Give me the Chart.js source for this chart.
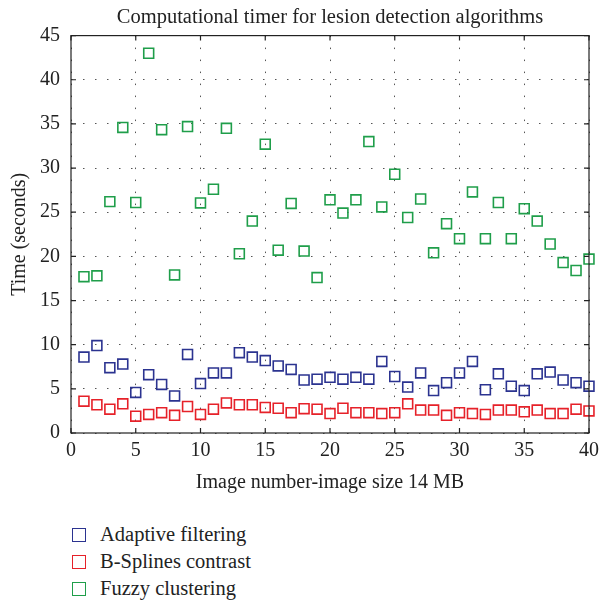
<!DOCTYPE html>
<html>
<head>
<meta charset="utf-8">
<script src="https://cdn.jsdelivr.net/npm/chart.js@4"></script>
<style>
  body { margin: 0; background: #fff; }
  #wrap { position: relative; width: 605px; height: 602px; }
  #box { position: absolute; left: 0; top: 0; width: 605px; height: 500px; }
  #legend { position: absolute; left: 72px; top: 521px; font-family: 'Liberation Serif', serif; font-size: 20.5px; color: #222; }
  #legend div { height: 27px; display: flex; align-items: center; }
  #legend span.sw { display: inline-block; width: 12px; height: 12px; border: 1.5px solid; margin-right: 14px; }
</style>
</head>
<body>
<div id="wrap">
  <div id="box"><canvas id="myChart"></canvas></div>
  <div id="legend"></div>
</div>
<script>
// image number 1..40
var images = [];
for (var i = 1; i <= 40; i++) images.push(i);

var adaptive = [8.6, 9.9, 7.4, 7.8, 4.6, 6.6, 5.5, 4.2, 8.9, 5.6,
                6.8, 6.8, 9.1, 8.6, 8.2, 7.6, 7.2, 6.0, 6.1, 6.3,
                6.1, 6.3, 6.1, 8.1, 6.4, 5.2, 6.8, 4.8, 5.7, 6.8,
                8.1, 4.9, 6.7, 5.3, 4.8, 6.7, 6.9, 6.0, 5.7, 5.3];
var bsplines = [3.6, 3.2, 2.7, 3.3, 1.9, 2.1, 2.3, 2.0, 3.0, 2.1,
                2.7, 3.4, 3.2, 3.2, 2.9, 2.8, 2.3, 2.75, 2.7, 2.2,
                2.8, 2.3, 2.3, 2.2, 2.3, 3.3, 2.6, 2.6, 2.0, 2.3,
                2.2, 2.1, 2.6, 2.6, 2.4, 2.6, 2.2, 2.2, 2.7, 2.5];
var fuzzy = [17.7, 17.8, 26.2, 34.6, 26.1, 43.0, 34.35, 17.9, 34.7, 26.05,
             27.6, 34.5, 20.3, 24.0, 32.7, 20.7, 26.0, 20.6, 17.6, 26.4,
             24.9, 26.4, 33.0, 25.6, 29.3, 24.4, 26.5, 20.4, 23.7, 22.0,
             27.3, 22.0, 26.1, 22.0, 25.4, 24.0, 21.4, 19.3, 18.4, 19.7];

var xTicks = [0, 5, 10, 15, 20, 25, 30, 35, 40];
var yTicks = [0, 5, 10, 15, 20, 25, 30, 35, 40, 45];

var serif = "'Liberation Serif', 'DejaVu Serif', serif";

function toPoints(vals) {
  return vals.map(function (v, k) { return { x: images[k], y: v }; });
}

function series(label, vals, color) {
  return {
    label: label,
    data: toPoints(vals),
    pointStyle: 'rect',
    pointRadius: 7,
    pointHoverRadius: 7,
    pointBorderWidth: 1.6,
    borderColor: color,
    backgroundColor: 'rgba(0,0,0,0)',
    showLine: false,
    clip: false
  };
}

// frame + inward ticks like the original
var frame = {
  id: 'frame',
  afterDraw: function (chart) {
    var c = chart.ctx, a = chart.chartArea;
    var sx = chart.scales.x, sy = chart.scales.y;
    c.save();
    c.strokeStyle = '#222';
    c.lineWidth = 1.2;
    c.strokeRect(a.left, a.top, a.right - a.left, a.bottom - a.top);
    c.beginPath();
    xTicks.forEach(function (t) {
      var px = sx.getPixelForValue(t);
      c.moveTo(px, a.bottom); c.lineTo(px, a.bottom - 5);
      c.moveTo(px, a.top); c.lineTo(px, a.top + 5);
    });
    yTicks.forEach(function (t) {
      var py = sy.getPixelForValue(t);
      c.moveTo(a.left, py); c.lineTo(a.left + 5, py);
      c.moveTo(a.right, py); c.lineTo(a.right - 5, py);
    });
    c.stroke();
    c.restore();
  }
};

const ctx = document.getElementById("myChart").getContext("2d");
const myChart = new Chart(ctx, {
  type: "scatter",
  data: {
    datasets: [
      series("Adaptive filtering", adaptive, "#2b3390"),
      series("B-Splines contrast", bsplines, "#e62129"),
      series("Fuzzy clustering", fuzzy, "#1f9e4a")
    ]
  },
  options: {
    responsive: true,
    maintainAspectRatio: false,
    animation: false,
    layout: { padding: { left: 0, right: 10, top: 0, bottom: 0 } },
    plugins: {
      legend: { display: false },
      tooltip: { enabled: false },
      title: {
        display: true,
        fullSize: false,
        text: "Computational timer for lesion detection algorithms",
        color: "#222",
        font: { family: serif, size: 20.5, weight: "normal", lineHeight: 1.2 },
        padding: { top: 5, bottom: 6 }
      }
    },
    scales: {
      x: {
        type: "linear",
        min: 0, max: 40,
        afterBuildTicks: function (s) { s.ticks = xTicks.map(function (v) { return { value: v }; }); },
        afterFit: function (s) { s.height = 67; },
        ticks: { color: "#222", font: { family: serif, size: 20 }, padding: 6, maxRotation: 0 },
        grid: { color: "#555", lineWidth: 1, drawTicks: false },
        border: { display: false, dash: [1.5, 10.5] },
        title: {
          display: true,
          text: "Image number-image size 14 MB",
          color: "#222",
          font: { family: serif, size: 20, lineHeight: 1.2 },
          padding: { top: 0, bottom: 5 }
        }
      },
      y: {
        min: 0, max: 45,
        afterBuildTicks: function (s) { s.ticks = yTicks.map(function (v) { return { value: v }; }); },
        afterFit: function (s) { s.width = 71; },
        ticks: { color: "#222", font: { family: serif, size: 20 }, padding: 11 },
        grid: { color: "#555", lineWidth: 1, drawTicks: false },
        border: { display: false, dash: [1.5, 10.5] },
        title: {
          display: true,
          text: "Time (seconds)",
          color: "#222",
          font: { family: serif, size: 20, lineHeight: 1.2 },
          padding: { top: 8, bottom: 0 }
        }
      }
    }
  },
  plugins: [frame]
});

// legend under the chart, one item per line
var leg = document.getElementById("legend");
myChart.data.datasets.forEach(function (d) {
  var row = document.createElement("div");
  var sw = document.createElement("span");
  sw.className = "sw";
  sw.style.borderColor = d.borderColor;
  row.appendChild(sw);
  row.appendChild(document.createTextNode(d.label));
  leg.appendChild(row);
});
</script>
</body>
</html>
